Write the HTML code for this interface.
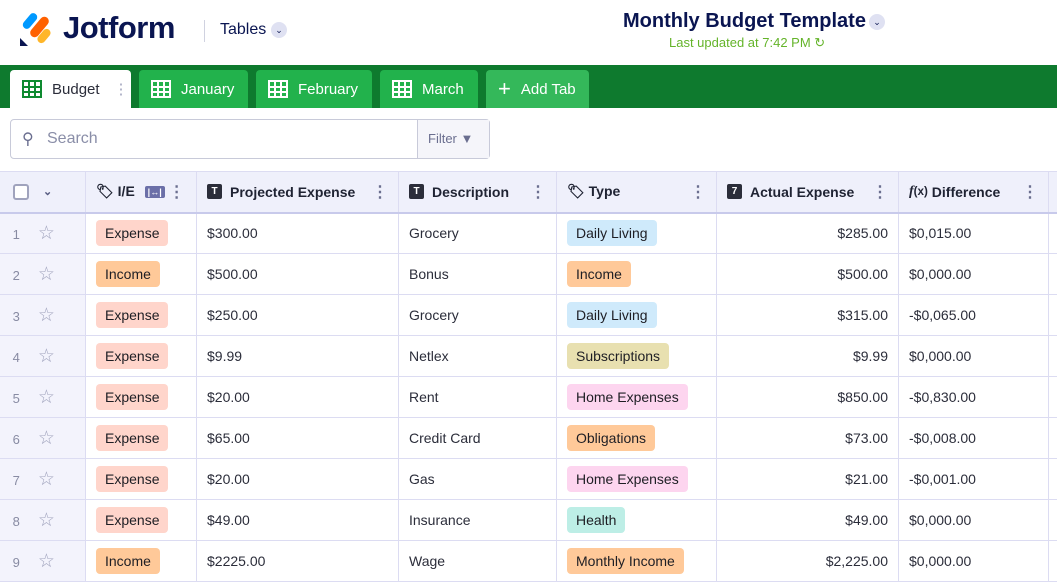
<!DOCTYPE html>
<html><head><meta charset="utf-8"><style>
*{box-sizing:border-box;margin:0;padding:0}
body{width:1057px;height:584px;overflow:hidden;background:#fff;font-family:"Liberation Sans",sans-serif;color:#0a1551;position:relative}
.abs{position:absolute}
.tab{position:absolute;top:70px;height:38px;border-radius:4px 4px 0 0;background:#22b24c;color:#fff;font-size:15px;display:flex;align-items:center;padding-left:12px;gap:10px}
.grid{width:20px;height:18px;border:2px solid currentColor;background:
linear-gradient(currentColor,currentColor) 0 4px/100% 2px no-repeat,
linear-gradient(currentColor,currentColor) 0 9px/100% 2px no-repeat,
linear-gradient(currentColor,currentColor) 4px 0/2px 100% no-repeat,
linear-gradient(currentColor,currentColor) 10px 0/2px 100% no-repeat}
table{position:absolute;top:171px;left:-2px;border-collapse:collapse;table-layout:fixed;width:1080px;font-size:14px;color:#2b2d3a}
td,th{border:1px solid #dcdcf2;height:41px;padding:0 10px;white-space:nowrap;overflow:hidden;vertical-align:middle}
th{background:#eff0fb;height:41px;font-weight:bold;color:#1f2333;text-align:left;font-size:14px;border-bottom:2px solid #c8caeb}
th .h{display:flex;align-items:center;height:20px}
th .h .sp{flex:1}
td.n{background:#f3f3fc;color:#888ba3;font-size:13px}
.pill{display:inline-block;padding:5px 9px;border-radius:4px;color:#1e1e24;font-size:14px}
.E{background:#ffd5cb}.I{background:#ffc999}.D{background:#cfeafb}.S{background:#e8e0b0}.H{background:#fdd5ef}.O{background:#ffc999}.He{background:#bdeee6}
.ic{display:inline-block;width:15px;height:15px;background:#2b2d3a;color:#fff;font-size:10px;text-align:center;line-height:15px;border-radius:2px;margin-right:8px}
.dots{color:#6a6e8f;font-size:16px}
.r{text-align:right}
.star{color:#a0a3bd;font-size:19px;margin-left:18px}
</style></head><body>
<div class="abs" style="left:20px;top:12px;width:30px;height:32px">
<div class="abs" style="left:6px;top:0;width:8px;height:18px;background:#0099ff;border-radius:4px;transform:rotate(40deg)"></div>
<div class="abs" style="left:15px;top:3px;width:9px;height:24px;background:#ff6100;border-radius:5px;transform:rotate(40deg)"></div>
<div class="abs" style="left:20px;top:16px;width:8px;height:16px;background:#ffb629;border-radius:4px;transform:rotate(40deg)"></div>
<div class="abs" style="left:0;top:26px;width:8px;height:8px;background:#0a1551;clip-path:polygon(0 0,100% 100%,0 100%)"></div>
</div>
<div class="abs" style="left:63px;top:10px;font-size:31px;font-weight:bold;letter-spacing:-0.5px">Jotform</div>
<div class="abs" style="left:204px;top:20px;width:1px;height:22px;background:#d0d2e0"></div>
<div class="abs" style="left:220px;top:21px;font-size:16px">Tables</div>
<div class="abs" style="left:271px;top:22px;width:16px;height:16px;border-radius:50%;background:#dfe1f2;font-size:9px;text-align:center;line-height:16px">⌄</div>
<div class="abs" style="left:623px;top:10px;font-size:20px;font-weight:bold;width:240px;white-space:nowrap">Monthly Budget Template</div>
<div class="abs" style="left:869px;top:14px;width:16px;height:16px;border-radius:50%;background:#dfe1f2;font-size:9px;text-align:center;line-height:16px">⌄</div>
<div class="abs" style="left:669px;top:35px;font-size:13px;color:#64b42a">Last updated at 7:42 PM ↻</div>
<div class="abs" style="left:0;top:65px;width:1057px;height:43px;background:#0e7a2e"></div>
<div class="tab" style="left:10px;width:121px;background:#fff;color:#0a1551"><span class="grid" style="color:#0e8a30"></span><span style="color:#2b2d3a">Budget</span><span style="color:#a0a3bd;margin-left:4px">⋮</span></div>
<div class="tab" style="left:139px;width:109px"><span class="grid"></span>January</div>
<div class="tab" style="left:256px;width:116px"><span class="grid"></span>February</div>
<div class="tab" style="left:380px;width:98px"><span class="grid"></span>March</div>
<div class="tab" style="left:486px;width:103px;background:#34b85a"><span style="font-size:22px;font-weight:300">+</span>Add Tab</div>
<div class="abs" style="left:10px;top:119px;width:480px;height:40px;border:1px solid #c8cad9;border-radius:4px"></div>
<div class="abs" style="left:417px;top:120px;width:72px;height:38px;border-left:1px solid #c8cad9;background:#f5f5fa;color:#6a6e8f;font-size:13px;line-height:38px;padding-left:10px">Filter ▼</div>
<div class="abs" style="left:22px;top:129px;font-size:16px;color:#6a6e8f">⚲</div>
<div class="abs" style="left:47px;top:130px;font-size:16px;color:#8a8ea8">Search</div>
<table>
<colgroup><col style="width:87px"><col style="width:111px"><col style="width:202px"><col style="width:158px"><col style="width:160px"><col style="width:182px"><col style="width:150px"><col style="width:30px"></colgroup>
<tr><th><div class="h"><span style="display:inline-block;width:16px;height:16px;border:2px solid #a0a3bd;border-radius:3px;background:#fff;margin-left:4px"></span><span style="margin-left:14px;color:#555a80;font-size:11px">⌄</span></div></th>
<th><div class="h">🏷&nbsp;I/E&nbsp;<span style="display:inline-block;background:#6b6fa8;color:#fff;font-size:9px;padding:1px 3px;border-radius:2px;margin-left:6px">|↔|</span>&nbsp;<span class="dots">⋮</span></div></th>
<th><div class="h"><span class="ic">T</span>Projected Expense<span class="sp"></span><span class="dots">⋮</span></div></th>
<th><div class="h"><span class="ic">T</span>Description<span class="sp"></span><span class="dots">⋮</span></div></th>
<th><div class="h">🏷&nbsp;Type<span class="sp"></span><span class="dots">⋮</span></div></th>
<th><div class="h"><span class="ic">7</span>Actual Expense<span class="sp"></span><span class="dots">⋮</span></div></th>
<th><div class="h"><i style="font-family:'Liberation Serif',serif">f</i><small>(x)</small>&nbsp;Difference<span class="sp"></span><span class="dots">⋮</span></div></th><th></th></tr>
<tr><td class="n">&nbsp;1<span class="star">☆</span></td><td><span class="pill E">Expense</span></td><td>$300.00</td><td>Grocery</td><td><span class="pill D">Daily Living</span></td><td class="r">$285.00</td><td>$0,015.00</td><td></td></tr>
<tr><td class="n">&nbsp;2<span class="star">☆</span></td><td><span class="pill I">Income</span></td><td>$500.00</td><td>Bonus</td><td><span class="pill I">Income</span></td><td class="r">$500.00</td><td>$0,000.00</td><td></td></tr>
<tr><td class="n">&nbsp;3<span class="star">☆</span></td><td><span class="pill E">Expense</span></td><td>$250.00</td><td>Grocery</td><td><span class="pill D">Daily Living</span></td><td class="r">$315.00</td><td>-$0,065.00</td><td></td></tr>
<tr><td class="n">&nbsp;4<span class="star">☆</span></td><td><span class="pill E">Expense</span></td><td>$9.99</td><td>Netlex</td><td><span class="pill S">Subscriptions</span></td><td class="r">$9.99</td><td>$0,000.00</td><td></td></tr>
<tr><td class="n">&nbsp;5<span class="star">☆</span></td><td><span class="pill E">Expense</span></td><td>$20.00</td><td>Rent</td><td><span class="pill H">Home Expenses</span></td><td class="r">$850.00</td><td>-$0,830.00</td><td></td></tr>
<tr><td class="n">&nbsp;6<span class="star">☆</span></td><td><span class="pill E">Expense</span></td><td>$65.00</td><td>Credit Card</td><td><span class="pill O">Obligations</span></td><td class="r">$73.00</td><td>-$0,008.00</td><td></td></tr>
<tr><td class="n">&nbsp;7<span class="star">☆</span></td><td><span class="pill E">Expense</span></td><td>$20.00</td><td>Gas</td><td><span class="pill H">Home Expenses</span></td><td class="r">$21.00</td><td>-$0,001.00</td><td></td></tr>
<tr><td class="n">&nbsp;8<span class="star">☆</span></td><td><span class="pill E">Expense</span></td><td>$49.00</td><td>Insurance</td><td><span class="pill He">Health</span></td><td class="r">$49.00</td><td>$0,000.00</td><td></td></tr>
<tr><td class="n">&nbsp;9<span class="star">☆</span></td><td><span class="pill I">Income</span></td><td>$2225.00</td><td>Wage</td><td><span class="pill I">Monthly Income</span></td><td class="r">$2,225.00</td><td>$0,000.00</td><td></td></tr>
</table>
</body></html>
